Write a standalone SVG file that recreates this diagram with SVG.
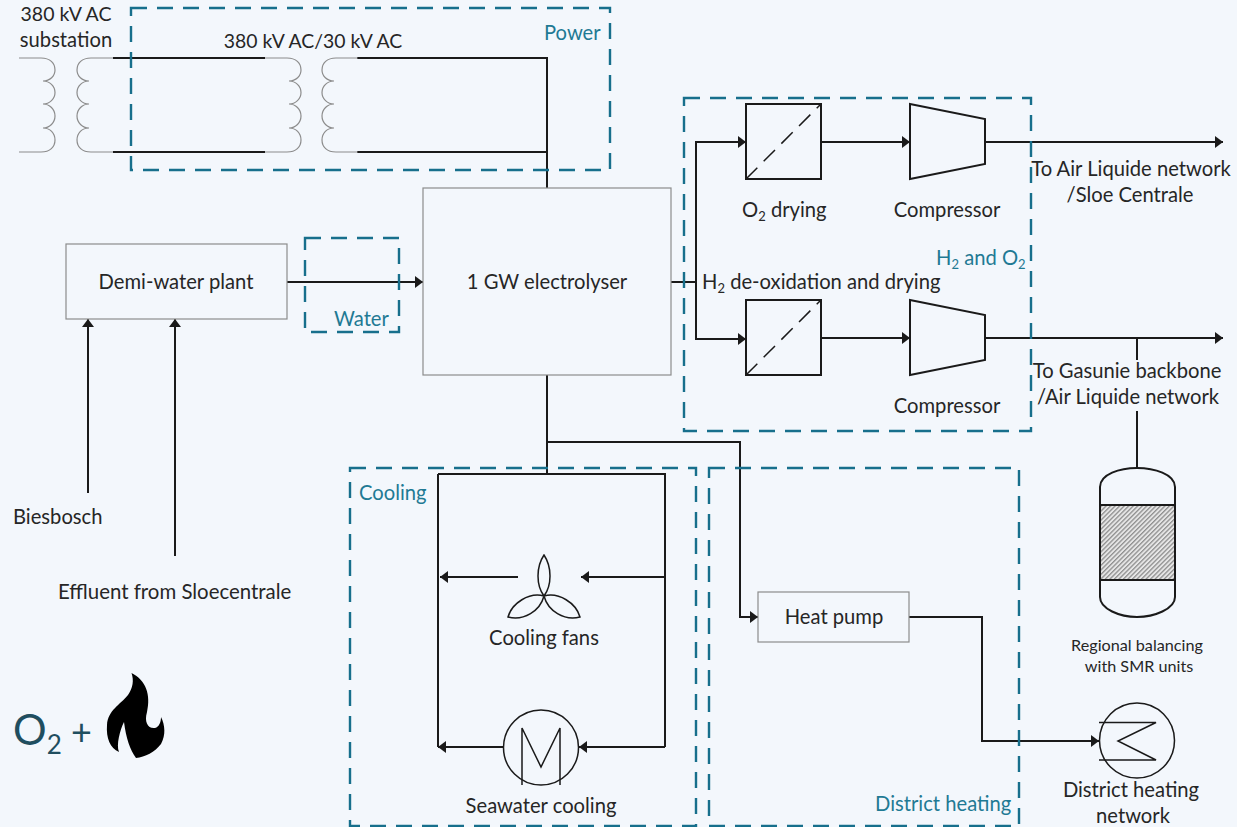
<svg xmlns="http://www.w3.org/2000/svg" width="1237" height="827" viewBox="0 0 1237 827">
<style>
text{font-family:"Lato","Carlito","Open Sans","Liberation Sans",sans-serif;font-size:20.2px;fill:#262626}
.m{text-anchor:middle}
.t{fill:#1f7a94}
.box{fill:none;stroke:#8c8c8c;stroke-width:1.2}
.dash{fill:none;stroke:#176f8c;stroke-width:2.4;stroke-dasharray:16 10}
.ln{fill:none;stroke:#1a1a1a;stroke-width:2}
.sy{fill:none;stroke:#1a1a1a;stroke-width:2}
.thin{fill:none;stroke:#1a1a1a;stroke-width:1.5}
.coil{fill:none;stroke:#8c8c8c;stroke-width:1.2}
.arr{marker-end:url(#ah)}
</style>
<defs>
<marker id="ah" markerUnits="userSpaceOnUse" markerWidth="9" markerHeight="13" refX="8" refY="6" orient="auto"><path d="M0,0L8,6L0,12Z" fill="#1a1a1a"/></marker>
<pattern id="hatch" width="3.2" height="3.2" patternUnits="userSpaceOnUse" patternTransform="rotate(-45)"><rect width="3.2" height="3.2" fill="#e6e6e6"/><rect width="3.2" height="1.3" fill="#8f8f8f"/></pattern>
<path id="c1" d="M0,0H22C31,0 36,5 36,12C36,18 31,23 24,23A12,11.5 0 0 1 24,46A12,12 0 0 1 24,70C31,70 36,75 36,82C36,89 31,94 22,94H0"/>
<path id="c2" d="M36,0H14C5,0 0,5 0,12C0,18 5,23 12,23A12,11.5 0 0 0 12,46A12,12 0 0 0 12,70C5,70 0,75 0,82C0,89 5,94 14,94H36"/>
</defs>
<rect width="1237" height="827" fill="#f3f7fc"/>

<g id="connectors">
<path class="ln" d="M113,58H265M113,152H265M357,58H547V188M357,152H547"/>
<path class="ln arr" d="M287,282H423"/>
<path class="ln arr" d="M88,493V319"/>
<path class="ln arr" d="M175,556V319"/>
<path class="ln" d="M671,282H696"/>
<path class="ln arr" d="M696,282V142H746"/>
<path class="ln arr" d="M696,282V339H746"/>
<path class="ln arr" d="M821,142H910"/>
<path class="ln arr" d="M821,338H910"/>
<path class="ln arr" d="M985,142H1223"/>
<path class="ln arr" d="M985,338H1223"/>
<path class="ln" d="M1137,338V360M1137,411V468"/>
<path class="ln" d="M547,375V474"/>
<path class="ln arr" d="M547,442H740V617H758"/>
<path class="ln" d="M438,474H665V747"/>
<path class="ln" d="M438,474V747"/>
<path class="ln arr" d="M518,577H440"/>
<path class="ln arr" d="M666,577H581"/>
<path class="ln arr" d="M665,747H579"/>
<path class="ln arr" d="M503,747H438"/>
<path class="ln arr" d="M909,617H982V741H1099"/>
</g>

<g id="substation">
<use href="#c1" x="19" y="58" class="coil"/>
<use href="#c2" x="77" y="58" class="coil"/>
<text class="m" x="66" y="21" style="font-size:19.5px">380 kV AC</text>
<text class="m" x="66" y="47">substation</text>
</g>
<g id="transformer">
<use href="#c1" x="265" y="58" class="coil"/>
<use href="#c2" x="322" y="58" class="coil"/>
<text class="m" x="313" y="48" style="font-size:19.4px">380 kV AC/30 kV AC</text>
</g>
<g id="power"><rect class="dash" x="131" y="8" width="479" height="162"/><text class="t" x="544" y="40">Power</text></g>
<g id="water"><rect class="dash" x="305" y="238" width="94" height="94"/><text class="t" x="334" y="326">Water</text></g>
<g id="h2o2"><rect class="dash" x="684" y="98" width="347" height="333"/><text class="t" x="936" y="265">H<tspan font-size="13" dy="4">2</tspan><tspan dy="-4"> and O</tspan><tspan font-size="13" dy="4">2</tspan></text></g>
<g id="cooling"><rect class="dash" x="350" y="468" width="346" height="358"/><text class="t" x="359" y="500">Cooling</text></g>
<g id="districtheating"><rect class="dash" x="709" y="468" width="310" height="358"/><text class="t" x="875" y="811">District heating</text></g>

<g id="demi"><rect class="box" x="66" y="244" width="221" height="75"/><text class="m" x="176" y="289">Demi-water plant</text></g>
<g id="electrolyser"><rect class="box" x="423" y="188" width="248" height="187"/><text class="m" x="547" y="289">1 GW electrolyser</text></g>
<g id="heatpump"><rect class="box" x="758" y="592" width="151" height="50"/><text class="m" x="834" y="624">Heat pump</text></g>
<g id="biesbosch"><text x="13" y="524">Biesbosch</text></g>
<g id="effluent"><text x="58" y="599" style="font-size:20.4px">Effluent from Sloecentrale</text></g>

<g id="o2dry"><rect class="sy" x="746" y="104" width="75" height="75"/><path class="thin" stroke-dasharray="16 9" d="M746,179L821,104"/><text x="742" y="217">O<tspan font-size="13" dy="4">2</tspan><tspan dy="-4"> drying</tspan></text></g>
<g id="h2dry"><rect class="sy" x="746" y="300" width="75" height="75"/><path class="thin" stroke-dasharray="16 9" d="M746,375L821,300"/><text x="702" y="289">H<tspan font-size="13" dy="4">2</tspan><tspan dy="-4"> de-oxidation and drying</tspan></text></g>
<g id="comp1"><path class="sy" d="M910,104L985,119V164L910,179Z"/><text class="m" x="947" y="217">Compressor</text></g>
<g id="comp2"><path class="sy" d="M910,300L985,315V360L910,375Z"/><text class="m" x="947" y="413">Compressor</text></g>
<g id="out1"><text class="m" x="1131" y="176">To Air Liquide network</text><text class="m" x="1130" y="202">/Sloe Centrale</text></g>
<g id="out2"><text class="m" x="1127" y="378">To Gasunie backbone</text><text class="m" x="1128" y="404">/Air Liquide network</text></g>

<g id="vessel">
<path class="sy" d="M1100,487C1100,474 1120,468 1137,468C1154,468 1175,474 1175,487V597C1175,609 1154,617 1137,617C1120,617 1100,609 1100,597Z"/>
<rect x="1100" y="505" width="75" height="75" fill="url(#hatch)" stroke="#1a1a1a" stroke-width="2"/>
<text class="m" x="1137" y="651" style="font-size:16.2px">Regional balancing</text>
<text class="m" x="1139" y="672" style="font-size:16.2px">with SMR units</text>
</g>
<g id="fans">
<path class="thin" d="M544,555C536,567 536,585 544,596C552,585 552,567 544,555ZM544,596C529,592 512,603 508,617C524,621 540,611 544,596ZM544,596C559,592 576,603 580,617C564,621 548,611 544,596Z"/>
<text class="m" x="544" y="645">Cooling fans</text>
</g>
<g id="seawater">
<circle class="thin" cx="541" cy="747.5" r="37.5"/>
<path class="thin" d="M522,785V728L541,767L560,728V785"/>
<text class="m" x="541" y="813">Seawater cooling</text>
</g>
<g id="dhn">
<circle class="thin" cx="1137" cy="740.5" r="37.5"/>
<path class="thin" d="M1099,722.5H1156L1118,741L1156,760H1099"/>
<text class="m" x="1131" y="797">District heating</text>
<text class="m" x="1133" y="823">network</text>
</g>
<g id="o2flame">
<text x="13" y="745" style="font-size:42px;fill:#1f4e5f">O<tspan font-size="26" dy="9">2</tspan><tspan dy="-9" font-size="36"> +</tspan></text>
<path fill="#000" d="M131.5,673C146,680 151,695 147,712C144,722 148,729 155,728C159,727 161,722 161,717C165,725 166,735 161,744C155,752 145,757 136,758C130,750 126,738 124,722C120,730 116,745 119,752C110,748 106,738 107,725C108,710 120,705 128,695C133,688 134,680 131.5,673Z"/>
</g>
</svg>
